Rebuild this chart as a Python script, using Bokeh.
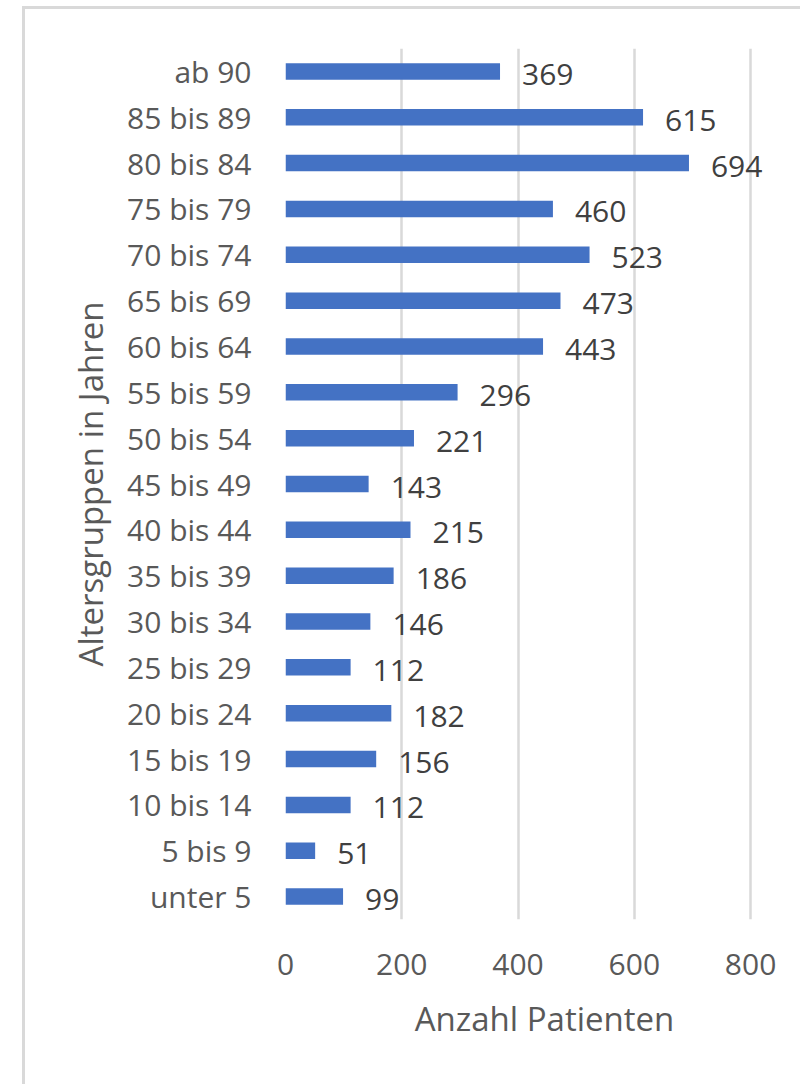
from bokeh.plotting import figure
from bokeh.models import FactorRange, Range1d, ColumnDataSource, FixedTicker, LabelSet
from bokeh.core.properties import value
from bokeh.embed import file_html
from bokeh.resources import INLINE

# Data (bottom to top)
age_groups = ["unter 5", "5 bis 9", "10 bis 14", "15 bis 19", "20 bis 24", "25 bis 29",
              "30 bis 34", "35 bis 39", "40 bis 44", "45 bis 49", "50 bis 54", "55 bis 59",
              "60 bis 64", "65 bis 69", "70 bis 74", "75 bis 79", "80 bis 84", "85 bis 89", "ab 90"]
patients = [99, 51, 112, 156, 182, 112, 146, 186, 215, 143, 221, 296,
            443, 473, 523, 460, 694, 615, 369]
x_ticks = [0, 200, 400, 600, 800]

FONT = "Open Sans"
FS = "30px"
TITLE_FS = "33px"
TICK_COLOR = "#595959"
LABEL_COLOR = "#404040"
BAR_COLOR = "#4472C4"
GRID_COLOR = "#d9d9d9"

src = ColumnDataSource(dict(cat=age_groups, val=patients, txt=[str(v) for v in patients]))

p = figure(width=778, height=1078, output_backend="svg", toolbar_location=None,
           y_range=FactorRange(factors=age_groups, range_padding=0),
           x_range=Range1d(0, 891),
           min_border_left=260, min_border_right=0, min_border_top=39, min_border_bottom=168,
           margin=(6, 0, 0, 22),
           styles={"border-left": "3px solid #d9d9d9", "border-top": "3px solid #d9d9d9"})

p.hbar(y="cat", right="val", left=0, height=0.36, source=src, color=BAR_COLOR, line_color=None)

labels = LabelSet(x="val", y="cat", text="txt", source=src, x_offset=22, y_offset=-3,
                  text_align="left", text_baseline="middle", text_font=value(FONT),
                  text_font_size=FS, text_color=LABEL_COLOR)
p.add_layout(labels)

p.outline_line_color = None
p.background_fill_color = "white"
p.border_fill_color = "white"

p.ygrid.grid_line_color = None
p.xgrid.grid_line_color = GRID_COLOR
p.xgrid.grid_line_width = 2.5
p.xaxis.ticker = FixedTicker(ticks=x_ticks)

for ax in (p.xaxis[0], p.yaxis[0]):
    ax.axis_line_color = None
    ax.major_tick_line_color = None
    ax.minor_tick_line_color = None
    ax.major_tick_in = 0
    ax.major_tick_out = 0
    ax.major_label_text_font = FONT
    ax.major_label_text_font_size = FS
    ax.major_label_text_color = TICK_COLOR
    ax.axis_label_text_font = FONT
    ax.axis_label_text_font_size = TITLE_FS
    ax.axis_label_text_color = TICK_COLOR
    ax.axis_label_text_font_style = "normal"

p.xaxis.axis_label = "Anzahl Patienten"
p.yaxis.axis_label = "Altersgruppen in Jahren"
p.xaxis.major_label_standoff = 34
p.xaxis.axis_label_standoff = 18
p.yaxis.major_label_standoff = 34
p.yaxis.axis_label_standoff = 11

open("out.html", "w").write(file_html(p, INLINE))
